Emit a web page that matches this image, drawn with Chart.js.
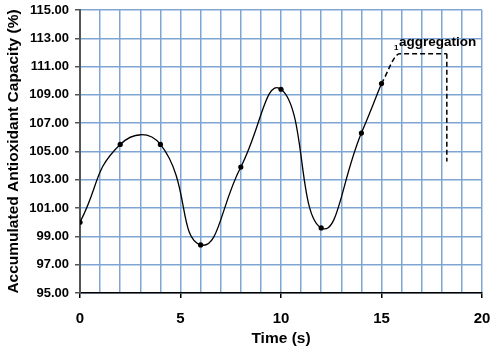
<!DOCTYPE html>
<html><head><meta charset="utf-8">
<script src="https://cdn.jsdelivr.net/npm/chart.js@4.4.1/dist/chart.umd.min.js"></script>
<style>html,body{margin:0;padding:0;background:#fff}</style>
</head><body>
<canvas id="c" width="494" height="350"></canvas>
<script>
// ---- data ----
const timeS = [0, 2, 4, 6, 8, 10, 12, 14, 15];
const capacity = [100.0, 105.5, 105.5, 98.4, 103.9, 109.4, 99.6, 106.3, 109.8];
const aggCurveX = [15, 15.9, 18.25];
const aggCurveY = [109.8, 111.9, 111.9];
const aggDropX = [18.25, 18.25];
const aggDropY = [111.9, 104.3];
const xTickLabels = [0, 5, 10, 15, 20];
const yTickLabels = [95, 97, 99, 101, 103, 105, 107, 109, 111, 113, 115];
const annotationText = 'aggregation';
const annotationMark = '1';
const annotationPos = {x: 15.87, y: 112.75};
const markPos = {x: 15.62, y: 112.35};

const FONT = '"Liberation Sans", Arial, sans-serif';
const toPts = (xs, ys) => xs.map((x, i) => ({x, y: ys[i]}));

const textPlugin = {
  id: 'annot',
  afterDatasetsDraw(chart) {
    const {ctx, scales: {x, y}} = chart;
    ctx.save();
    ctx.fillStyle = '#000';
    ctx.textBaseline = 'middle';
    ctx.textAlign = 'left';
    ctx.font = 'bold 13.5px ' + FONT;
    ctx.fillText(annotationText, x.getPixelForValue(annotationPos.x), y.getPixelForValue(annotationPos.y));
    ctx.font = 'bold 8px ' + FONT;
    ctx.fillText(annotationMark, x.getPixelForValue(markPos.x), y.getPixelForValue(markPos.y));
    ctx.restore();
  }
};

new Chart(document.getElementById('c'), {
  type: 'scatter',
  data: {
    datasets: [
      {
        data: toPts(timeS, capacity),
        showLine: true,
        borderColor: '#000',
        borderWidth: 1.3,
        tension: 0.5,
        pointRadius: 2.6,
        pointBackgroundColor: '#000',
        pointBorderWidth: 0
      },
      {
        data: toPts(aggCurveX, aggCurveY),
        showLine: true,
        borderColor: '#000',
        borderWidth: 1.5,
        borderDash: [5, 3],
        cubicInterpolationMode: 'monotone',
        pointRadius: 0
      },
      {
        data: toPts(aggDropX, aggDropY),
        showLine: true,
        borderColor: '#000',
        borderWidth: 1.5,
        borderDash: [5, 3],
        tension: 0,
        pointRadius: 0
      }
    ]
  },
  options: {
    responsive: false,
    animation: false,
    layout: {padding: {left: 4, right: 12, top: 10, bottom: 2}},
    plugins: {legend: {display: false}, tooltip: {enabled: false}},
    scales: {
      x: {
        type: 'linear', min: 0, max: 20,
        afterFit: s => { s.height = 55; s.paddingLeft = 0; s.paddingRight = 0; },
        ticks: {
          stepSize: 1, autoSkip: false, maxRotation: 0, padding: 12,
          color: '#000', font: {family: FONT, weight: 'bold', size: 15},
          callback: v => xTickLabels.includes(v) ? String(v) : ''
        },
        grid: {
          color: '#7fa5d3', lineWidth: 1.5, tickLength: 5,
          tickColor: c => (c.tick && xTickLabels.includes(c.tick.value)) ? '#000' : 'rgba(0,0,0,0)'
        },
        border: {color: '#000', width: 1.5},
        title: {display: true, text: 'Time (s)', color: '#000', font: {family: FONT, weight: 'bold', size: 15.5}, padding: {top: 0, bottom: 0}}
      },
      y: {
        type: 'linear', min: 95, max: 115,
        afterFit: s => { s.width = 76; s.paddingTop = 0; s.paddingBottom = 0; },
        afterBuildTicks: s => { s.ticks = yTickLabels.map(v => ({value: v})); },
        ticks: {
          padding: 6, color: '#000', font: {family: FONT, weight: 'bold', size: 13},
          callback: v => Number(v).toFixed(2)
        },
        grid: {color: '#7fa5d3', lineWidth: 1.5, tickLength: 5, tickColor: '#555'},
        border: {color: '#555', width: 2},
        title: {display: true, text: 'Accumulated Antioxidant Capacity (%)', color: '#000', font: {family: FONT, weight: 'bold', size: 15.5}, padding: {top: 0, bottom: 0}}
      }
    }
  },
  plugins: [textPlugin]
});
</script>
</body></html>
